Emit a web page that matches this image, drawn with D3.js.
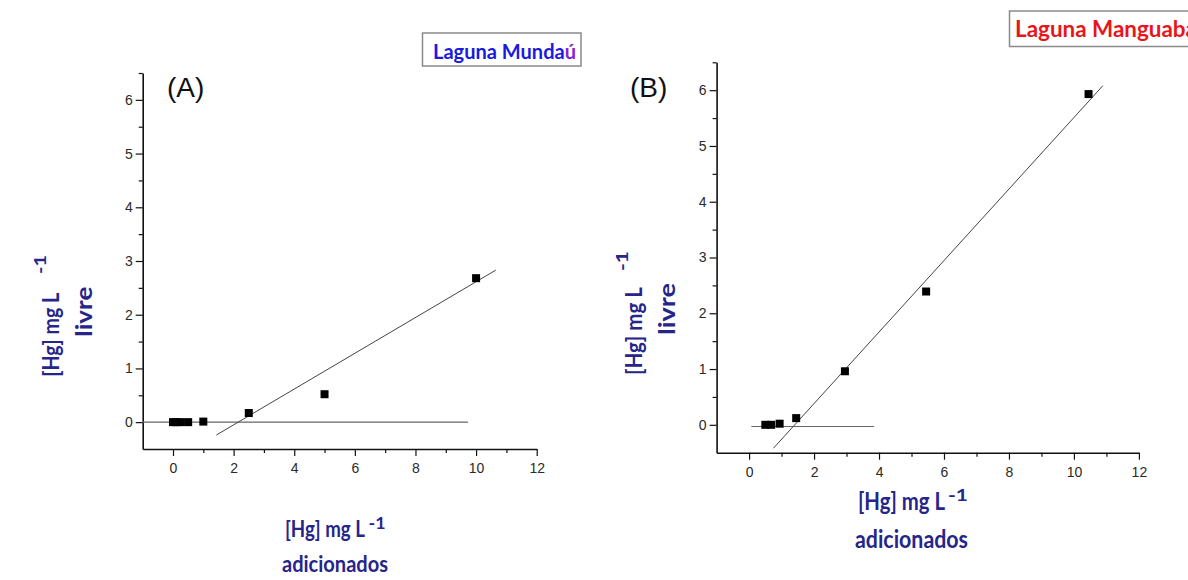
<!DOCTYPE html>
<html><head><meta charset="utf-8">
<script src="https://cdn.jsdelivr.net/npm/d3@7"></script>
<style>body{margin:0;background:#fff}</style>
</head><body>
<svg id="c" width="1188" height="580"></svg>
<script>
// ---- data ----
const aAddedX = [0, 0.1, 0.25, 0.5, 1, 2.5, 5, 10];
const aFreeY  = [0, 0, 0, 0, 0.01, 0.17, 0.52, 2.68];
const aFitX   = [1.43, 10.65];
const aFitY   = [-0.24, 2.83];
const aBaseX  = [-1, 9.73];
const aBaseY  = [0, 0];

const bAddedX = [0.5, 0.68, 0.94, 1.45, 2.95, 5.45, 10.45];
const bFreeY  = [0, 0, 0.02, 0.12, 0.96, 2.39, 5.93];
const bFitX   = [0.75, 10.89];
const bFitY   = [-0.42, 6.08];
const bBaseX  = [0.07, 3.85];
const bBaseY  = [-0.03, -0.03];

const xMajor = [0, 2, 4, 6, 8, 10, 12];
const xMinor = [1, 3, 5, 7, 9, 11];
const yMajor = [0, 1, 2, 3, 4, 5, 6];
const yMinor = [0.5, 1.5, 2.5, 3.5, 4.5, 5.5, 6.5];
const xDomain = [-1, 12];
const yDomain = [-0.5, 6.5];

const svg = d3.select("#c");
const labelFont = "Lato, 'Open Sans', sans-serif";
const navy = "#25258a";

function lbl(g, x, y, rot, txt, size, len) {
  const t = g.append("text")
    .attr("transform", `translate(${x},${y})` + (rot ? " rotate(-90)" : ""))
    .attr("font-family", labelFont).attr("font-weight", 700)
    .attr("font-size", size).attr("fill", navy).text(txt);
  if (len) t.attr("textLength", len).attr("lengthAdjust", "spacingAndGlyphs");
  return t;
}

function panel(o) {
  const x = d3.scaleLinear().domain(xDomain).range([o.x0, o.x1]);
  const y = d3.scaleLinear().domain(yDomain).range([o.y0, o.y1]);
  const g = svg.append("g");

  const styleAxis = sel => {
    sel.selectAll("text").attr("font-family", "'Liberation Sans Narrow','Liberation Sans',Arial,sans-serif")
      .attr("font-size", 14).attr("fill", "#2a2a2a");
    sel.selectAll(".tick line").attr("stroke", "#111").attr("stroke-width", 1.2);
  };
  g.append("g").attr("transform", `translate(0,${o.y0})`)
    .call(d3.axisBottom(x).tickValues(xMinor).tickSize(4).tickSizeOuter(0).tickFormat(""))
    .call(s => s.select(".domain").remove()).call(styleAxis);
  g.append("g").attr("transform", `translate(0,${o.y0})`)
    .call(d3.axisBottom(x).tickValues(xMajor).tickSize(7).tickSizeOuter(0).tickPadding(7).tickFormat(d3.format("d")))
    .call(s => s.select(".domain").attr("stroke", "#111").attr("stroke-width", 1.6))
    .call(styleAxis);
  g.append("g").attr("transform", `translate(${o.x0},0)`)
    .call(d3.axisLeft(y).tickValues(yMinor).tickSize(4).tickSizeOuter(0).tickFormat(""))
    .call(s => s.select(".domain").remove()).call(styleAxis);
  g.append("g").attr("transform", `translate(${o.x0},0)`)
    .call(d3.axisLeft(y).tickValues(yMajor).tickSize(7).tickSizeOuter(0).tickPadding(3).tickFormat(d3.format("d")))
    .call(s => s.select(".domain").attr("stroke", "#111").attr("stroke-width", 1.6))
    .call(styleAxis);

  const line = d3.line().x(d => x(d[0])).y(d => y(d[1]));
  g.append("path").datum(d3.zip(o.baseX, o.baseY)).attr("d", line)
    .attr("fill", "none").attr("stroke", "#666").attr("stroke-width", 1.1);
  g.append("path").datum(d3.zip(o.fitX, o.fitY)).attr("d", line)
    .attr("fill", "none").attr("stroke", "#444").attr("stroke-width", 1);

  const s = 8;
  g.selectAll("rect.pt").data(d3.zip(o.px, o.py)).join("rect")
    .attr("x", d => x(d[0]) - s / 2).attr("y", d => y(d[1]) - s / 2)
    .attr("width", s).attr("height", s).attr("fill", "#000");

  g.append("text").attr("x", o.tag[0]).attr("y", o.tag[1]).text(o.tagText)
    .attr("font-family", "'Liberation Sans',Arial,sans-serif").attr("font-size", 28).attr("fill", "#111");

  const L = o.lab;
  lbl(g, L.ym[0], L.ym[1], true, "[Hg] mg L", 22, L.ym[2]);
  lbl(g, L.ys[0], L.ys[1], true, "-1", 17, L.ys[2]);
  lbl(g, L.yl[0], L.yl[1], true, "livre", 22, L.yl[2]);
  lbl(g, L.xm[0], L.xm[1], false, "[Hg] mg L", L.xs0, L.xm[2]);
  lbl(g, L.xs[0], L.xs[1], false, "-1", 17, L.xs[2]);
  lbl(g, L.xa[0], L.xa[1], false, "adicionados", L.xs0, L.xa[2]);
}

panel({x0: 142.7, x1: 536.7, y0: 449, y1: 73,
  px: aAddedX, py: aFreeY, fitX: aFitX, fitY: aFitY, baseX: aBaseX, baseY: aBaseY,
  tag: [167, 97], tagText: "(A)",
  lab: {ym: [59, 376.7, 84], ys: [46, 274, 19], yl: [91.5, 336.7, 50],
        xm: [285, 537, 80], xs: [368.5, 529, 17], xa: [282, 572, 106], xs0: 23}});
panel({x0: 716.6, x1: 1138.9, y0: 452.7, y1: 62.3,
  px: bAddedX, py: bFreeY, fitX: bFitX, fitY: bFitY, baseX: bBaseX, baseY: bBaseY,
  tag: [630, 97], tagText: "(B)",
  lab: {ym: [642, 375, 88], ys: [628, 271, 20], yl: [675, 335, 52],
        xm: [858, 510, 87], xs: [948, 501, 20], xa: [855, 548, 113], xs0: 24}});

// title boxes
svg.append("rect").attr("x", 422.5).attr("y", 33).attr("width", 158.5).attr("height", 33)
  .attr("fill", "#fff").attr("stroke", "#8a8a8a").attr("stroke-width", 1.5);
const t1 = svg.append("text").attr("x", 433).attr("y", 58.5).attr("font-family", labelFont)
  .attr("font-weight", 700).attr("font-size", 21).attr("fill", "#1a1ae0")
  .attr("textLength", 143).attr("lengthAdjust", "spacingAndGlyphs");
t1.append("tspan").text("Laguna Munda");
t1.append("tspan").text("ú").attr("fill", "#8a22d8");

svg.append("rect").attr("x", 1009.5).attr("y", 11).attr("width", 200).attr("height", 35.5)
  .attr("fill", "#fff").attr("stroke", "#8a8a8a").attr("stroke-width", 1.5);
svg.append("text").attr("x", 1015).attr("y", 37).attr("font-family", labelFont)
  .attr("font-weight", 700).attr("font-size", 23).attr("fill", "#e8151a")
  .attr("textLength", 182).attr("lengthAdjust", "spacingAndGlyphs").text("Laguna Manguaba");
</script>
</body></html>
